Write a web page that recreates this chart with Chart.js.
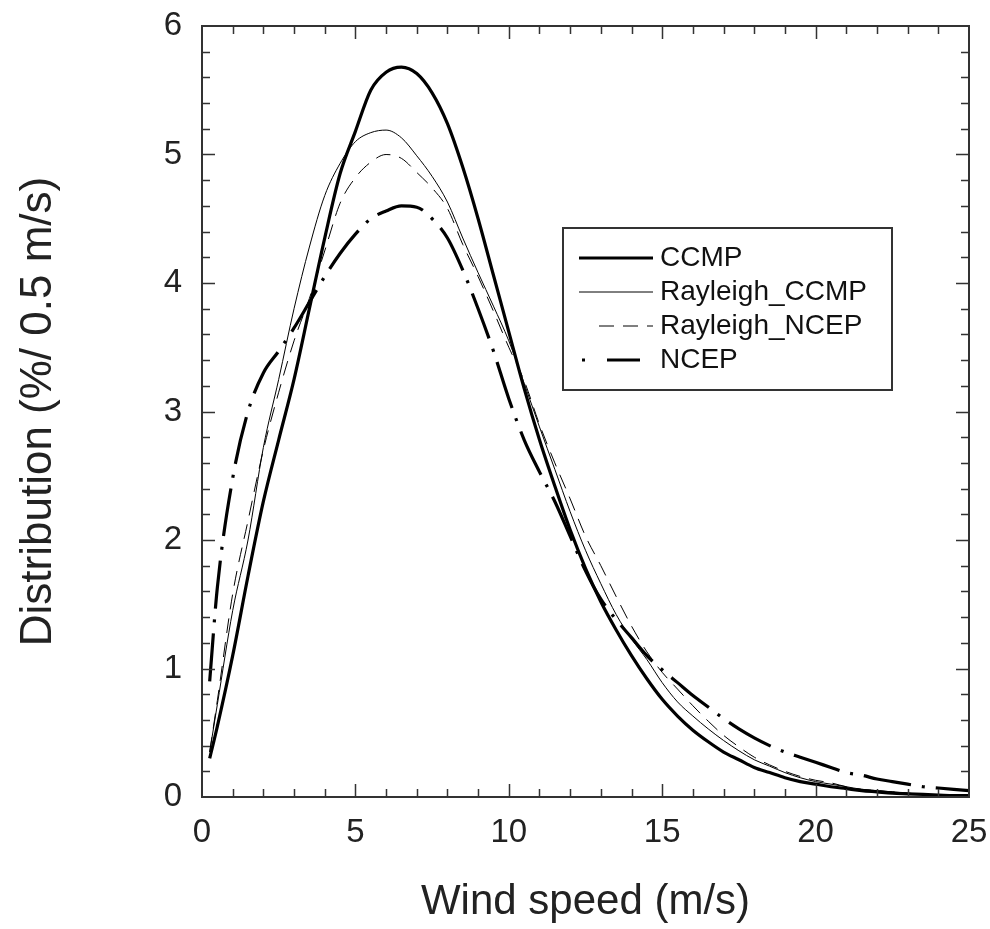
<!DOCTYPE html>
<html>
<head>
<meta charset="utf-8">
<script src="https://cdn.jsdelivr.net/npm/chart.js@4"></script>
<style>
  html, body { margin: 0; padding: 0; background: #fff; }
  #wrap { width: 990px; height: 929px; }
</style>
</head>
<body>
<div id="wrap"><canvas id="chart" width="990" height="929"></canvas></div>
<script>
// wind speed bins (m/s)
const windSpeed = [0.25, 0.5, 1, 1.5, 2, 2.5, 3, 3.5, 4, 4.5, 5, 5.5, 6, 6.5, 7, 7.5, 8, 8.5, 9, 9.5,
  10, 10.5, 11, 11.5, 12, 12.5, 13, 13.5, 14, 14.5, 15, 15.5, 16, 16.5, 17, 17.5, 18, 18.5, 19, 19.5,
  20, 20.5, 21, 21.5, 22, 22.5, 23, 23.5, 24, 24.5, 25];

const ccmp = [0.3, 0.55, 1.1, 1.72, 2.3, 2.78, 3.25, 3.8, 4.35, 4.85, 5.18, 5.5, 5.64, 5.68, 5.63, 5.48, 5.24, 4.9, 4.5, 4.06,
  3.62, 3.18, 2.78, 2.42, 2.08, 1.78, 1.52, 1.3, 1.1, 0.92, 0.76, 0.63, 0.52, 0.43, 0.35, 0.29, 0.23, 0.19, 0.15, 0.12,
  0.1, 0.08, 0.065, 0.05, 0.04, 0.03, 0.025, 0.02, 0.015, 0.01, 0.01];

const rayleighCcmp = [0.35, 0.72, 1.45, 2.0, 2.72, 3.25, 3.8, 4.28, 4.68, 4.93, 5.1, 5.17, 5.19, 5.13, 4.99, 4.83, 4.63, 4.35, 4.08, 3.82,
  3.55, 3.22, 2.88, 2.55, 2.22, 1.92, 1.66, 1.42, 1.23, 1.07, 0.89, 0.74, 0.63, 0.53, 0.44, 0.36, 0.29, 0.24, 0.19, 0.15,
  0.12, 0.1, 0.08, 0.06, 0.05, 0.04, 0.03, 0.02, 0.015, 0.01, 0.01];

const rayleighNcep = [0.35, 0.75, 1.58, 2.15, 2.7, 3.15, 3.55, 3.88, 4.25, 4.62, 4.82, 4.94, 5.0, 4.97, 4.86, 4.74, 4.58, 4.3, 4.05, 3.78,
  3.5, 3.24, 2.9, 2.6, 2.32, 2.03, 1.8, 1.56, 1.33, 1.13, 0.97, 0.84, 0.71, 0.59, 0.48, 0.39, 0.31, 0.25, 0.2, 0.16,
  0.13, 0.11, 0.08, 0.06, 0.05, 0.04, 0.03, 0.02, 0.015, 0.01, 0.01];

const ncep = [0.9, 1.63, 2.48, 3.0, 3.3, 3.47, 3.65, 3.85, 4.05, 4.23, 4.38, 4.5, 4.56, 4.6, 4.59, 4.5, 4.35, 4.1, 3.8, 3.47,
  3.1, 2.78, 2.53, 2.3, 2.03, 1.76, 1.54, 1.38, 1.24, 1.1, 0.99, 0.89, 0.79, 0.7, 0.61, 0.53, 0.46, 0.4, 0.35, 0.31,
  0.27, 0.23, 0.19, 0.17, 0.14, 0.12, 0.1, 0.08, 0.07, 0.06, 0.05];

const seriesNames = ["CCMP", "Rayleigh_CCMP", "Rayleigh_NCEP", "NCEP"];

const pts = (ys) => windSpeed.map((x, i) => ({ x: x, y: ys[i] }));

const FONT = "'Liberation Sans', Arial, sans-serif";

// box frame, inward ticks on all four sides, and the legend
const frameAndLegend = {
  id: "frameAndLegend",
  afterDatasetsDraw(chart) {
    const { ctx, chartArea: a, scales: { x, y } } = chart;
    ctx.save();
    ctx.strokeStyle = "#333";
    ctx.lineWidth = 2;
    ctx.strokeRect(a.left, a.top, a.right - a.left, a.bottom - a.top);
    ctx.lineWidth = 1.5;
    ctx.beginPath();
    for (let v = 1; v < 25; v++) {
      const px = Math.round(x.getPixelForValue(v)) + 0.5;
      const len = v % 5 === 0 ? 13 : 8;
      ctx.moveTo(px, a.bottom); ctx.lineTo(px, a.bottom - len);
      ctx.moveTo(px, a.top); ctx.lineTo(px, a.top + len);
    }
    for (let k = 1; k < 30; k++) {
      const py = Math.round(y.getPixelForValue(k / 5)) + 0.5;
      const len = k % 5 === 0 ? 13 : 8;
      ctx.moveTo(a.left, py); ctx.lineTo(a.left + len, py);
      ctx.moveTo(a.right, py); ctx.lineTo(a.right - len, py);
    }
    ctx.stroke();

    // legend box
    const bx = a.left + 361, by = a.top + 202, bw = 329, bh = 162;
    ctx.fillStyle = "#fff";
    ctx.fillRect(bx, by, bw, bh);
    ctx.lineWidth = 2;
    ctx.strokeStyle = "#333";
    ctx.strokeRect(bx, by, bw, bh);
    ctx.font = "28px " + FONT;
    ctx.textBaseline = "middle";
    ctx.textAlign = "left";
    chart.data.datasets.forEach((ds, i) => {
      const ry = by + 30 + i * 34;
      ctx.beginPath();
      ctx.strokeStyle = "#000";
      ctx.lineWidth = ds.borderWidth;
      ctx.setLineDash(ds.borderDash || []);
      if (i === 3) ctx.setLineDash([3, 22, 30, 0]);
      const x0 = i === 2 ? bx + 36 : (i === 3 ? bx + 19 : bx + 16);
      ctx.moveTo(x0, ry);
      ctx.lineTo(bx + 90, ry);
      ctx.stroke();
      ctx.setLineDash([]);
      ctx.fillStyle = "#111";
      ctx.fillText(ds.label, bx + 97, ry);
    });
    ctx.restore();
  }
};

new Chart(document.getElementById("chart"), {
  type: "line",
  data: {
    datasets: [
      { label: seriesNames[0], data: pts(ccmp), borderColor: "#000", borderWidth: 3.2 },
      { label: seriesNames[1], data: pts(rayleighCcmp), borderColor: "#000", borderWidth: 1 },
      { label: seriesNames[2], data: pts(rayleighNcep), borderColor: "#000", borderWidth: 1, borderDash: [15, 9] },
      { label: seriesNames[3], data: pts(ncep), borderColor: "#000", borderWidth: 3.2, borderDash: [48, 11, 3, 11] }
    ]
  },
  options: {
    responsive: false,
    animation: false,
    events: [],
    layout: { padding: { top: 26, right: 21, left: 0, bottom: 0 } },
    elements: {
      point: { radius: 0 },
      line: { tension: 0.4, cubicInterpolationMode: "monotone", fill: false }
    },
    plugins: { legend: { display: false }, tooltip: { enabled: false } },
    scales: {
      x: {
        type: "linear",
        min: 0, max: 25,
        grid: { display: false, drawTicks: false },
        border: { display: false },
        ticks: { stepSize: 5, padding: 16, color: "#222", font: { size: 33, family: FONT } },
        title: { display: true, text: "Wind speed (m/s)", color: "#222", padding: { top: 0, bottom: 1 },
          font: { size: 42, family: FONT } },
        afterFit(s) { s.height = 132; s.paddingLeft = 0; s.paddingRight = 0; }
      },
      y: {
        min: 0, max: 6,
        grid: { display: false, drawTicks: false },
        border: { display: false },
        ticks: { stepSize: 1, padding: 20, color: "#222", font: { size: 33, family: FONT } },
        title: { display: true, text: "Distribution (%/ 0.5 m/s)", color: "#222", padding: { top: 12, bottom: 0 },
          font: { size: 44, family: FONT } },
        afterFit(s) { s.width = 202; s.paddingTop = 0; s.paddingBottom = 0; }
      }
    }
  },
  plugins: [frameAndLegend]
});
</script>
</body>
</html>
